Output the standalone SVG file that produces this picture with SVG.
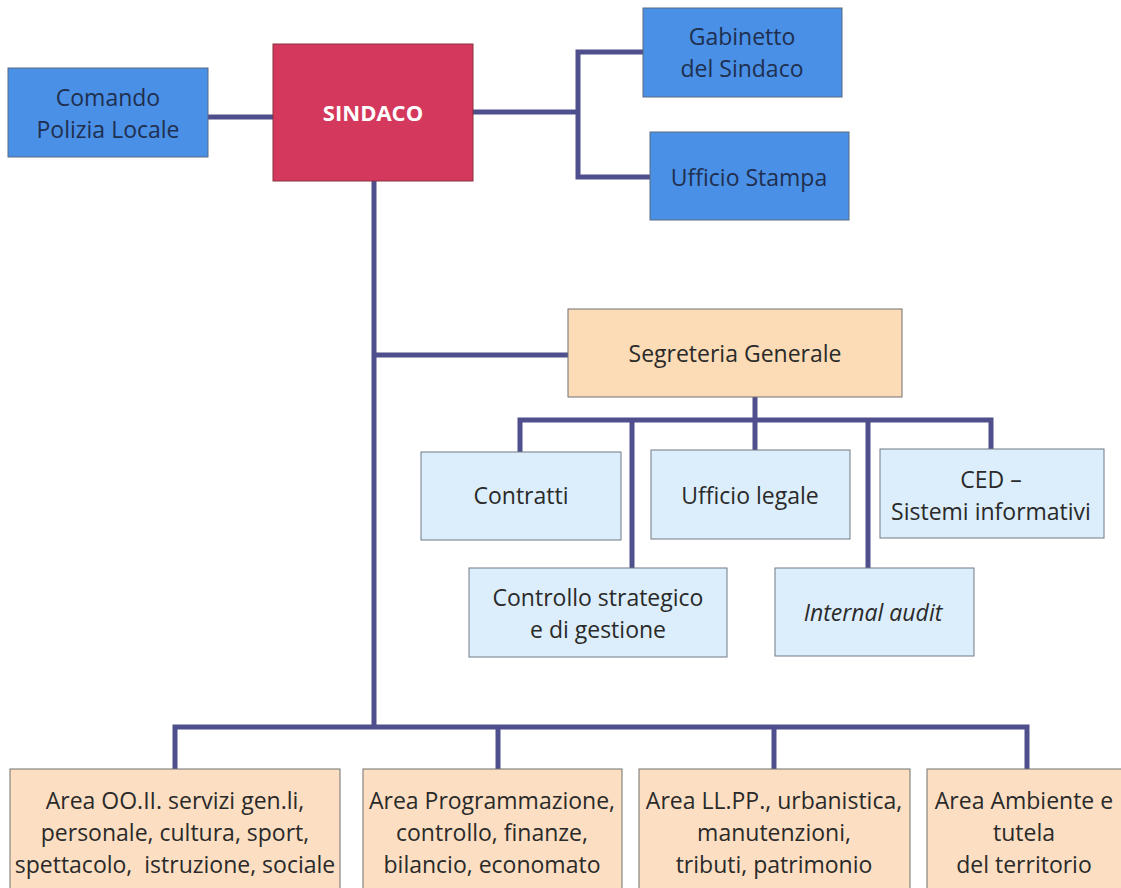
<svg xmlns="http://www.w3.org/2000/svg" width="1121" height="888" viewBox="0 0 1121 888">
<style>
text{font-family:"Open Sans","Liberation Sans",sans-serif;font-size:23px;text-anchor:middle;fill:#2a2a2a}
.blue rect{fill:#4a90e6;stroke:#5a6a80;stroke-width:1}
.blue text{fill:#1f2f4f;font-size:23px}
.lb rect{fill:#dceefb;stroke:#707a85;stroke-width:1}
.pe rect{fill:#fcdfc2;stroke:#707070;stroke-width:1}
.sg rect{fill:#fbdcb6;stroke:#707070;stroke-width:1}
.conn{fill:none;stroke:#4e4f8c;stroke-width:5;stroke-linejoin:miter}
</style>
<rect width="1121" height="888" fill="#ffffff"/>
<g id="connectors">
<path class="conn" d="M208 117H273"/>
<path class="conn" d="M473 112H578M643 52H578V177H650"/>
<path class="conn" d="M374 181V728"/>
<path class="conn" d="M374 355H568"/>
<path class="conn" d="M755 397V420"/>
<path class="conn" d="M520 452V420H991V449"/>
<path class="conn" d="M632 420V568"/>
<path class="conn" d="M755 420V450"/>
<path class="conn" d="M868 420V568"/>
<path class="conn" d="M175 769V727H1027V769"/>
<path class="conn" d="M498 727V769"/>
<path class="conn" d="M774 727V769"/>
</g>
<g id="comando" class="blue">
<rect x="8" y="68" width="200" height="89"/>
<text x="108" y="106">Comando</text>
<text x="108" y="138">Polizia Locale</text>
</g>
<g id="sindaco">
<rect x="273" y="44" width="200" height="137" fill="#d4385c" stroke="#8a3040" stroke-width="1"/>
<text x="373" y="121" style="fill:#ffffff;font-weight:bold;font-size:22px">SINDACO</text>
</g>
<g id="gabinetto" class="blue">
<rect x="643" y="8" width="199" height="89"/>
<text x="742" y="45">Gabinetto</text>
<text x="742" y="77">del Sindaco</text>
</g>
<g id="stampa" class="blue">
<rect x="650" y="132" width="199" height="88"/>
<text x="749" y="186">Ufficio Stampa</text>
</g>
<g id="segreteria" class="sg">
<rect x="568" y="309" width="334" height="88"/>
<text x="735" y="362">Segreteria Generale</text>
</g>
<g id="contratti" class="lb">
<rect x="421" y="452" width="200" height="88"/>
<text x="521" y="504">Contratti</text>
</g>
<g id="legale" class="lb">
<rect x="651" y="450" width="199" height="89"/>
<text x="750" y="504">Ufficio legale</text>
</g>
<g id="ced" class="lb">
<rect x="880" y="449" width="224" height="89"/>
<text x="991" y="488">CED –</text>
<text x="991" y="520">Sistemi informativi</text>
</g>
<g id="controllo" class="lb">
<rect x="469" y="568" width="258" height="89"/>
<text x="598" y="606">Controllo strategico</text>
<text x="598" y="638">e di gestione</text>
</g>
<g id="audit" class="lb">
<rect x="775" y="568" width="199" height="88"/>
<text x="873" y="621" font-style="italic">Internal audit</text>
</g>
<g id="area1" class="pe">
<rect x="10" y="769" width="330" height="130"/>
<text x="175" y="809">Area OO.II. servizi gen.li,</text>
<text x="175" y="841">personale, cultura, sport,</text>
<text x="175" y="873" xml:space="preserve">spettacolo,  istruzione, sociale</text>
</g>
<g id="area2" class="pe">
<rect x="363" y="769" width="259" height="130"/>
<text x="492" y="809">Area Programmazione,</text>
<text x="492" y="841">controllo, finanze,</text>
<text x="492" y="873">bilancio, economato</text>
</g>
<g id="area3" class="pe">
<rect x="639" y="769" width="271" height="130"/>
<text x="774" y="809">Area LL.PP., urbanistica,</text>
<text x="774" y="841">manutenzioni,</text>
<text x="774" y="873">tributi, patrimonio</text>
</g>
<g id="area4" class="pe">
<rect x="927" y="769" width="210" height="130"/>
<text x="1024" y="809">Area Ambiente e</text>
<text x="1024" y="841">tutela</text>
<text x="1024" y="873">del territorio</text>
</g>
</svg>
